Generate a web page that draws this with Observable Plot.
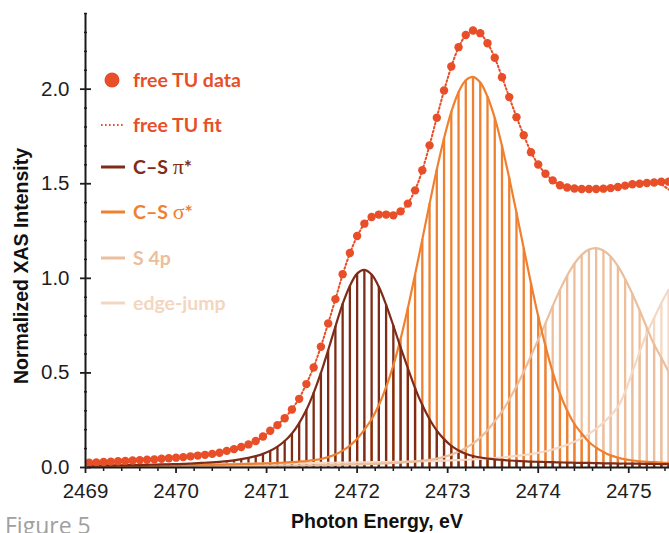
<!DOCTYPE html>
<html><head><meta charset="utf-8">
<script src="https://cdn.jsdelivr.net/npm/d3@7"></script>
<script src="https://cdn.jsdelivr.net/npm/@observablehq/plot@0.6"></script>
<style>
html,body{margin:0;padding:0;background:#fff;overflow:hidden}
#wrap{position:relative;width:669px;height:533px;overflow:hidden}
#wrap svg{position:absolute;left:0;top:0}
#wrap svg [aria-label$="tick label"]{font-size:20.5px !important}
#wrap svg [aria-label$="tick label"] text{font-size:20.5px !important}
#fig{position:absolute;left:5px;top:514px;font-family:"Open Sans",sans-serif;font-size:23px;line-height:23px;color:#a0a0a0;white-space:nowrap}
</style></head><body><div id="wrap"><div id="fig">Figure 5</div></div>
<script>
// Photon energy grid (eV)
const energy = [2469.04,2469.12,2469.20,2469.28,2469.36,2469.44,2469.52,2469.60,2469.68,2469.76,
2469.84,2469.92,2470.00,2470.08,2470.16,2470.24,2470.32,2470.40,2470.48,2470.56,
2470.64,2470.72,2470.80,2470.88,2470.96,2471.04,2471.12,2471.20,2471.28,2471.36,
2471.44,2471.52,2471.60,2471.68,2471.76,2471.84,2471.92,2472.00,2472.08,2472.16,
2472.24,2472.32,2472.40,2472.48,2472.56,2472.64,2472.72,2472.80,2472.88,2472.96,
2473.04,2473.12,2473.20,2473.28,2473.36,2473.44,2473.52,2473.60,2473.68,2473.76,
2473.84,2473.92,2474.00,2474.08,2474.16,2474.24,2474.32,2474.40,2474.48,2474.56,
2474.64,2474.72,2474.80,2474.88,2474.96,2475.04,2475.12,2475.20,2475.28,2475.36,2475.44];

// free TU data
const dataTU = [0.025,0.027,0.029,0.031,0.033,0.035,0.037,0.039,0.041,0.043,
0.046,0.049,0.052,0.055,0.059,0.063,0.067,0.072,0.078,0.088,
0.097,0.108,0.122,0.140,0.164,0.194,0.224,0.260,0.307,0.363,
0.441,0.529,0.638,0.761,0.890,1.022,1.134,1.224,1.289,1.324,
1.337,1.337,1.333,1.354,1.395,1.465,1.571,1.703,1.849,1.993,
2.120,2.222,2.286,2.310,2.296,2.243,2.166,2.063,1.958,1.852,
1.756,1.667,1.602,1.553,1.518,1.492,1.480,1.475,1.472,1.472,
1.472,1.474,1.477,1.483,1.490,1.497,1.500,1.504,1.507,1.511,1.511];

// free TU fit
const fitTU = [0.024,0.026,0.028,0.030,0.032,0.034,0.036,0.038,0.040,0.043,
0.046,0.049,0.052,0.055,0.059,0.063,0.068,0.073,0.079,0.087,
0.096,0.107,0.121,0.139,0.163,0.193,0.226,0.262,0.308,0.366,
0.443,0.531,0.640,0.762,0.889,1.020,1.132,1.222,1.287,1.322,
1.335,1.336,1.336,1.353,1.396,1.467,1.572,1.704,1.850,1.992,
2.118,2.220,2.284,2.308,2.294,2.243,2.166,2.064,1.958,1.853,
1.757,1.668,1.602,1.553,1.518,1.493,1.480,1.475,1.472,1.471,
1.472,1.474,1.477,1.483,1.489,1.495,1.499,1.502,1.503,1.495,1.470];

// C–S π*
const csPi = [0.010,0.010,0.011,0.011,0.012,0.012,0.013,0.013,0.014,0.015,
0.016,0.017,0.018,0.019,0.021,0.023,0.025,0.027,0.030,0.034,
0.038,0.044,0.051,0.060,0.072,0.088,0.110,0.140,0.180,0.235,
0.305,0.395,0.500,0.620,0.745,0.865,0.960,1.025,1.045,1.020,
0.955,0.860,0.750,0.635,0.525,0.420,0.330,0.255,0.195,0.150,
0.115,0.090,0.073,0.061,0.053,0.047,0.043,0.040,0.037,0.035,
0.033,0.031,0.030,0.029,0.028,0.027,0.026,0.025,0.024,0.024,
0.023,0.022,0.022,0.021,0.021,0.020,0.020,0.019,0.019,0.018,0.018];

// C–S σ*
const csSigma = [0.007,0.007,0.007,0.008,0.008,0.008,0.009,0.009,0.009,0.010,
0.010,0.011,0.011,0.012,0.012,0.013,0.014,0.014,0.015,0.016,
0.017,0.018,0.019,0.020,0.021,0.022,0.024,0.026,0.028,0.031,
0.034,0.039,0.045,0.055,0.069,0.089,0.116,0.152,0.200,0.255,
0.330,0.425,0.540,0.680,0.842,1.020,1.206,1.394,1.575,1.740,
1.880,1.984,2.047,2.065,2.035,1.960,1.848,1.700,1.530,1.347,
1.159,0.974,0.800,0.643,0.504,0.390,0.300,0.230,0.180,0.135,
0.105,0.082,0.064,0.052,0.043,0.037,0.033,0.030,0.028,0.026,0.024];

// S 4p
const s4p = [0.005,0.005,0.005,0.005,0.006,0.006,0.006,0.006,0.006,0.007,
0.007,0.007,0.007,0.007,0.008,0.008,0.008,0.008,0.008,0.009,
0.009,0.009,0.009,0.009,0.009,0.009,0.010,0.010,0.010,0.011,
0.011,0.012,0.013,0.013,0.014,0.015,0.016,0.017,0.018,0.019,
0.020,0.022,0.024,0.026,0.029,0.032,0.036,0.041,0.047,0.056,
0.068,0.083,0.103,0.127,0.158,0.197,0.245,0.295,0.360,0.430,
0.505,0.590,0.675,0.762,0.853,0.939,1.015,1.078,1.124,1.152,
1.160,1.147,1.115,1.064,0.997,0.918,0.831,0.739,0.650,0.580,0.505];

// edge-jump
const edgeJump = [0.015,0.015,0.015,0.016,0.016,0.016,0.016,0.017,0.017,0.017,
0.017,0.018,0.018,0.018,0.018,0.019,0.019,0.019,0.020,0.020,
0.020,0.020,0.021,0.021,0.021,0.022,0.022,0.022,0.023,0.023,
0.023,0.024,0.024,0.025,0.025,0.026,0.026,0.027,0.027,0.028,
0.028,0.029,0.030,0.030,0.031,0.032,0.033,0.034,0.035,0.036,
0.038,0.039,0.041,0.043,0.045,0.047,0.050,0.053,0.057,0.061,
0.066,0.071,0.078,0.086,0.095,0.107,0.120,0.136,0.155,0.178,
0.205,0.237,0.275,0.320,0.400,0.505,0.610,0.710,0.790,0.870,0.940];

const xTicks = [2469,2470,2471,2472,2473,2474,2475];
const yTicks = [0,0.5,1,1.5,2];
const legendLabels = ["free TU data","free TU fit","C–S π*","C–S σ*","S 4p","edge-jump"];

const cData = "#E84E27";
const comps = [
  {key:"edge", color:"#F4D8C3"},
  {key:"s4p", color:"#ECBE9C"},
  {key:"sigma", color:"#EF8030"},
  {key:"pi", color:"#7E2C17"}
];

const table = energy.map((e,i)=>({e, data:dataTU[i], fit:fitTU[i], pi:csPi[i], sigma:csSigma[i], s4p:s4p[i], edge:edgeJump[i]}));

const xMinor = d3.range(0, 33).map(k => +(2469 + k*0.2).toFixed(1)).filter(v => !xTicks.includes(v));
const yMinor = d3.range(0, 25).map(k => +(k*0.1).toFixed(1)).filter(v => !yTicks.includes(v));

const marks = [];
for (const c of comps) marks.push(Plot.ruleX(table, {x:"e", y1:0, y2:c.key, stroke:c.color, strokeWidth:2.3}));
for (const c of comps) marks.push(Plot.line(table, {x:"e", y:c.key, stroke:c.color, strokeWidth:2.2, curve:"catmull-rom"}));
marks.push(Plot.line(table, {x:"e", y:"fit", stroke:cData, strokeWidth:2, strokeDasharray:"1.6,2.4", curve:"catmull-rom"}));
marks.push(Plot.dot(table, {x:"e", y:"data", r:4.2, fill:cData}));
// axes
marks.push(Plot.ruleX([2469], {stroke:"#1a1a1a", strokeWidth:2}));
marks.push(Plot.ruleY([0], {stroke:"#1a1a1a", strokeWidth:2}));
marks.push(Plot.axisX({ticks:xTicks, tickSize:6, tickPadding:10, fontSize:20.5, label:null, tickFormat:d=>String(d), strokeWidth:1.8}));
marks.push(Plot.axisX({ticks:xMinor, tickSize:4, text:null, label:null, strokeWidth:1.5}));
marks.push(Plot.axisY({ticks:yTicks, tickSize:5, tickPadding:11, fontSize:20.5, label:null, tickFormat:d3.format(".1f"), strokeWidth:1.8}));
marks.push(Plot.axisY({ticks:yTicks, tickSize:6, dx:6, text:null, label:null, strokeWidth:1.8}));
marks.push(Plot.axisY({ticks:yMinor, tickSize:3, dx:2, text:null, label:null, strokeWidth:1.5}));

const chart = Plot.plot({
  width:669, height:533,
  marginLeft:85, marginRight:0, marginTop:13, marginBottom:66,
  x:{domain:[2469, 2475.45]},
  y:{domain:[0, 2.4]},
  style:{fontFamily:"'Liberation Sans', Arial, sans-serif", fontSize:"20.5px", color:"#1e1e1e", background:"transparent", overflow:"visible"},
  marks
});
document.getElementById("wrap").appendChild(chart);

const svg = d3.select(chart);
svg.selectAll('[aria-label$="tick label"]').attr("font-size", 20.5).style("font-size","20.5px");
svg.selectAll('[aria-label$="tick label"] text').attr("font-size", 20.5).style("font-size","20.5px");
// axis titles
svg.append("text").attr("x",377).attr("y",528).attr("text-anchor","middle")
  .attr("font-family","'Liberation Sans', Arial, sans-serif").attr("font-weight","bold").attr("font-size",19.5).attr("fill","#111")
  .text("Photon Energy, eV");
svg.append("text").attr("transform","translate(28,266) rotate(-90)").attr("text-anchor","middle")
  .attr("font-family","'Liberation Sans', Arial, sans-serif").attr("font-weight","bold").attr("font-size",19.5).attr("fill","#111")
  .text("Normalized XAS Intensity");

// legend
const lg = svg.append("g").attr("font-family","Lato, 'Open Sans', sans-serif").attr("font-weight","bold").attr("font-size",19.5).attr("text-anchor","start");
const rows = [
  {c:cData, kind:"dot", y:80},
  {c:cData, kind:"dotted", y:125},
  {c:"#7E2C17", kind:"line", y:167},
  {c:"#EF8030", kind:"line", y:212},
  {c:"#ECBE9C", kind:"line", y:258},
  {c:"#F4D6BF", kind:"line", y:303}
];
rows.forEach((r,i)=>{
  if (r.kind==="dot") lg.append("circle").attr("cx",112).attr("cy",r.y).attr("r",7.5).attr("fill",r.c);
  else lg.append("line").attr("x1",101).attr("x2",125).attr("y1",r.y).attr("y2",r.y).attr("stroke",r.c)
        .attr("stroke-width",r.kind==="dotted"?2:3).attr("stroke-dasharray",r.kind==="dotted"?"1.6,2.4":null);
  const t = lg.append("text").attr("x",133).attr("y",r.y+7).attr("fill",r.c).attr("text-anchor","start");
  const lab = legendLabels[i];
  const m = lab.match(/^(.*?)([πσ])(\*)$/);
  if (m) {
    t.append("tspan").text(m[1]);
    t.append("tspan").attr("font-family","'Liberation Serif','DejaVu Serif',serif").attr("font-weight","normal").attr("font-size",22).text(m[2]);
    t.append("tspan").text(m[3]);
  } else t.text(lab);
});
</script></body></html>
